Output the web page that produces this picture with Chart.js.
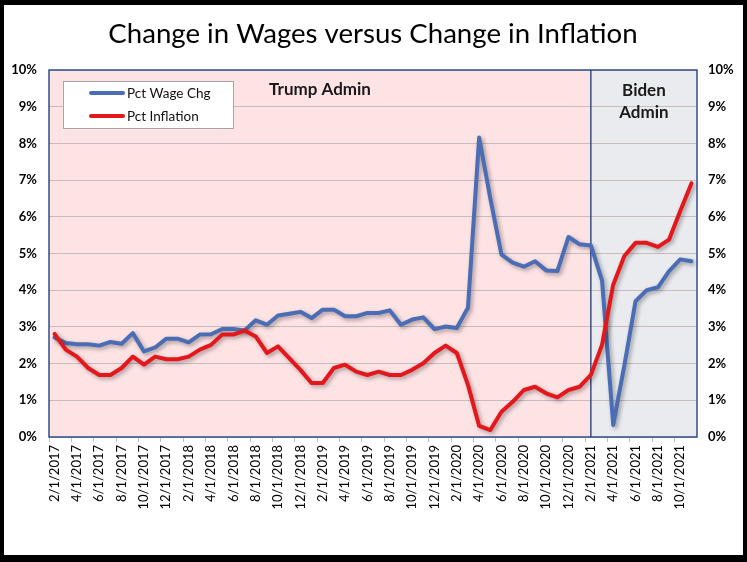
<!DOCTYPE html>
<html><head><meta charset="utf-8">
<script src="https://cdn.jsdelivr.net/npm/chart.js@4.4.1/dist/chart.umd.min.js"></script>
<style>
html,body{margin:0;padding:0;background:#000;width:747px;height:562px;overflow:hidden;}
#wrap{position:absolute;left:4px;top:5px;width:739px;height:550px;background:#fff;}
canvas{display:block;}
</style></head><body><div id="wrap"><canvas id="c" width="739" height="550"></canvas></div>
<script>
const categories = ["2/1/2017","3/1/2017","4/1/2017","5/1/2017","6/1/2017","7/1/2017","8/1/2017","9/1/2017","10/1/2017","11/1/2017","12/1/2017",
"1/1/2018","2/1/2018","3/1/2018","4/1/2018","5/1/2018","6/1/2018","7/1/2018","8/1/2018","9/1/2018","10/1/2018","11/1/2018","12/1/2018",
"1/1/2019","2/1/2019","3/1/2019","4/1/2019","5/1/2019","6/1/2019","7/1/2019","8/1/2019","9/1/2019","10/1/2019","11/1/2019","12/1/2019",
"1/1/2020","2/1/2020","3/1/2020","4/1/2020","5/1/2020","6/1/2020","7/1/2020","8/1/2020","9/1/2020","10/1/2020","11/1/2020","12/1/2020",
"1/1/2021","2/1/2021","3/1/2021","4/1/2021","5/1/2021","6/1/2021","7/1/2021","8/1/2021","9/1/2021","10/1/2021","11/1/2021"];

const wageChg = [2.71,2.56,2.53,2.53,2.49,2.59,2.54,2.83,2.33,2.44,2.68,
2.68,2.58,2.79,2.80,2.94,2.94,2.90,3.18,3.06,3.31,3.36,3.41,
3.24,3.47,3.47,3.29,3.29,3.38,3.38,3.45,3.06,3.20,3.26,2.94,
3.01,2.97,3.52,8.16,6.50,4.97,4.75,4.64,4.79,4.54,4.52,5.45,
5.25,5.22,4.27,0.33,1.95,3.70,4.00,4.08,4.52,4.84,4.79];

const inflation = [2.81,2.38,2.19,1.88,1.69,1.69,1.88,2.19,1.97,2.19,2.12,
2.12,2.19,2.38,2.51,2.79,2.79,2.90,2.74,2.29,2.47,2.15,1.83,
1.47,1.47,1.88,1.97,1.78,1.69,1.78,1.69,1.69,1.83,2.01,2.29,
2.49,2.29,1.42,0.30,0.19,0.69,0.96,1.28,1.37,1.19,1.08,1.28,
1.37,1.69,2.51,4.15,4.93,5.29,5.29,5.18,5.38,6.16,6.91];

const yTicks = [0,1,2,3,4,5,6,7,8,9,10];
const seriesNames = ["Pct Wage Chg","Pct Inflation"];
const seriesColors = ["#4A6DB5","#E3171C"];
const chartTitle = "Change in Wages versus Change in Inflation";
const eraLabels = ["Trump Admin", ["Biden","Admin"]];
const bidenStart = "2/1/2021";

const FONT = "Lato, 'Liberation Sans', sans-serif";

const bgPlugin = {
  id: 'bg',
  beforeDraw(chart) {
    const {ctx, chartArea: a, scales: {x}} = chart;
    const bx = x.getPixelForValue(categories.indexOf(bidenStart));
    ctx.save();
    ctx.fillStyle = '#FEE3E5';
    ctx.fillRect(a.left, a.top, bx - a.left, a.bottom - a.top);
    ctx.fillStyle = '#EAEBEE';
    ctx.fillRect(bx, a.top, a.right - bx, a.bottom - a.top);
    ctx.restore();
  },
  beforeDatasetsDraw(chart) {
    const {ctx, chartArea: a, scales: {x}} = chart;
    const bx = x.getPixelForValue(categories.indexOf(bidenStart));
    ctx.save();
    ctx.strokeStyle = '#2F4E8E';
    ctx.lineWidth = 1.5;
    ctx.strokeRect(a.left, a.top, a.right - a.left, a.bottom - a.top);
    ctx.strokeStyle = '#1E3570';
    ctx.lineWidth = 1.3;
    ctx.beginPath(); ctx.moveTo(bx, a.top); ctx.lineTo(bx, a.bottom); ctx.stroke();
    ctx.restore();
    // shadow for lines
    ctx.save();
    ctx.shadowColor = 'rgba(0,0,0,0.35)';
    ctx.shadowBlur = 4;
    ctx.shadowOffsetX = 2;
    ctx.shadowOffsetY = 2;
  },
  afterDatasetsDraw(chart) {
    chart.ctx.restore();
  },
  afterDraw(chart) {
    const {ctx, chartArea: a, scales: {x}} = chart;
    const bx = x.getPixelForValue(categories.indexOf(bidenStart));
    ctx.save();
    // title
    ctx.fillStyle = '#000';
    ctx.textAlign = 'center';
    ctx.textBaseline = 'middle';
    ctx.font = '27.6px ' + FONT;
    ctx.fillText(chartTitle, 369, 29);
    // era labels
    ctx.fillStyle = '#1A1A1A';
    ctx.font = 'bold 17px ' + FONT;
    ctx.fillText(eraLabels[0], 316, 85);
    const bc = (bx + a.right) / 2;
    ctx.fillText(eraLabels[1][0], bc, 86);
    ctx.fillText(eraLabels[1][1], bc, 108);
    // legend
    const lx = 59, ly = 76, lw = 170, lh = 47;
    ctx.fillStyle = '#FFFFFF';
    ctx.fillRect(lx, ly, lw, lh);
    ctx.strokeStyle = '#A6A6A6';
    ctx.lineWidth = 1;
    ctx.strokeRect(lx + 0.5, ly + 0.5, lw, lh);
    const rows = [88, 111];
    ctx.textAlign = 'left';
    ctx.font = '13.5px ' + FONT;
    for (let i = 0; i < 2; i++) {
      ctx.strokeStyle = seriesColors[i];
      ctx.lineWidth = 4;
      ctx.lineCap = 'round';
      ctx.beginPath(); ctx.moveTo(87, rows[i]); ctx.lineTo(119, rows[i]); ctx.stroke();
      ctx.fillStyle = '#111';
      ctx.fillText(seriesNames[i], 123, rows[i] + 0.5);
    }
    ctx.restore();
  }
};

const tickFont = {family: FONT, size: 13, weight: 'bold'};

new Chart(document.getElementById('c'), {
  type: 'line',
  data: {
    labels: categories,
    datasets: [
      {label: seriesNames[0], data: wageChg, borderColor: seriesColors[0], borderWidth: 4,
       pointRadius: 0, tension: 0, borderJoinStyle: 'round', borderCapStyle: 'round', order: 2, yAxisID: 'y'},
      {label: seriesNames[1], data: inflation, borderColor: seriesColors[1], borderWidth: 4,
       pointRadius: 0, tension: 0, borderJoinStyle: 'round', borderCapStyle: 'round', order: 1, yAxisID: 'y'}
    ]
  },
  options: {
    responsive: false,
    devicePixelRatio: 1,
    animation: false,
    layout: {padding: {top: 65, left: 0, right: 0, bottom: 0}},
    plugins: {legend: {display: false}, title: {display: false}, tooltip: {enabled: false}},
    scales: {
      x: {
        type: 'category',
        offset: true,
        border: {display: false},
        grid: {
          offset: true, drawOnChartArea: false, drawTicks: true, tickLength: 5,
          color: (c) => (c.index % 2 === 0 ? '#BFBFBF' : 'rgba(0,0,0,0)')
        },
        ticks: {
          autoSkip: false, maxRotation: 90, minRotation: 90, padding: 3,
          color: '#000', font: {family: FONT, size: 13},
          callback: function(v, i) { return i % 2 === 0 ? this.getLabelForValue(v) : ''; }
        },
        afterFit: (s) => { s.height = 118; }
      },
      y: {
        position: 'left', min: 0, max: 10,
        afterBuildTicks: (s) => { s.ticks = yTicks.map(v => ({value: v})); },
        border: {display: false},
        grid: {color: '#C6BCBE', lineWidth: 1, drawTicks: false},
        ticks: {color: '#000', font: tickFont, padding: 12, callback: (v) => v + '%'},
        afterFit: (s) => { s.width = 45; }
      },
      y2: {
        position: 'right', min: 0, max: 10,
        afterBuildTicks: (s) => { s.ticks = yTicks.map(v => ({value: v})); },
        border: {display: false},
        grid: {display: false, drawTicks: false},
        ticks: {color: '#000', font: tickFont, padding: 11, callback: (v) => v + '%'},
        afterFit: (s) => { s.width = 46; }
      }
    }
  },
  plugins: [bgPlugin]
});
</script>
</body></html>
